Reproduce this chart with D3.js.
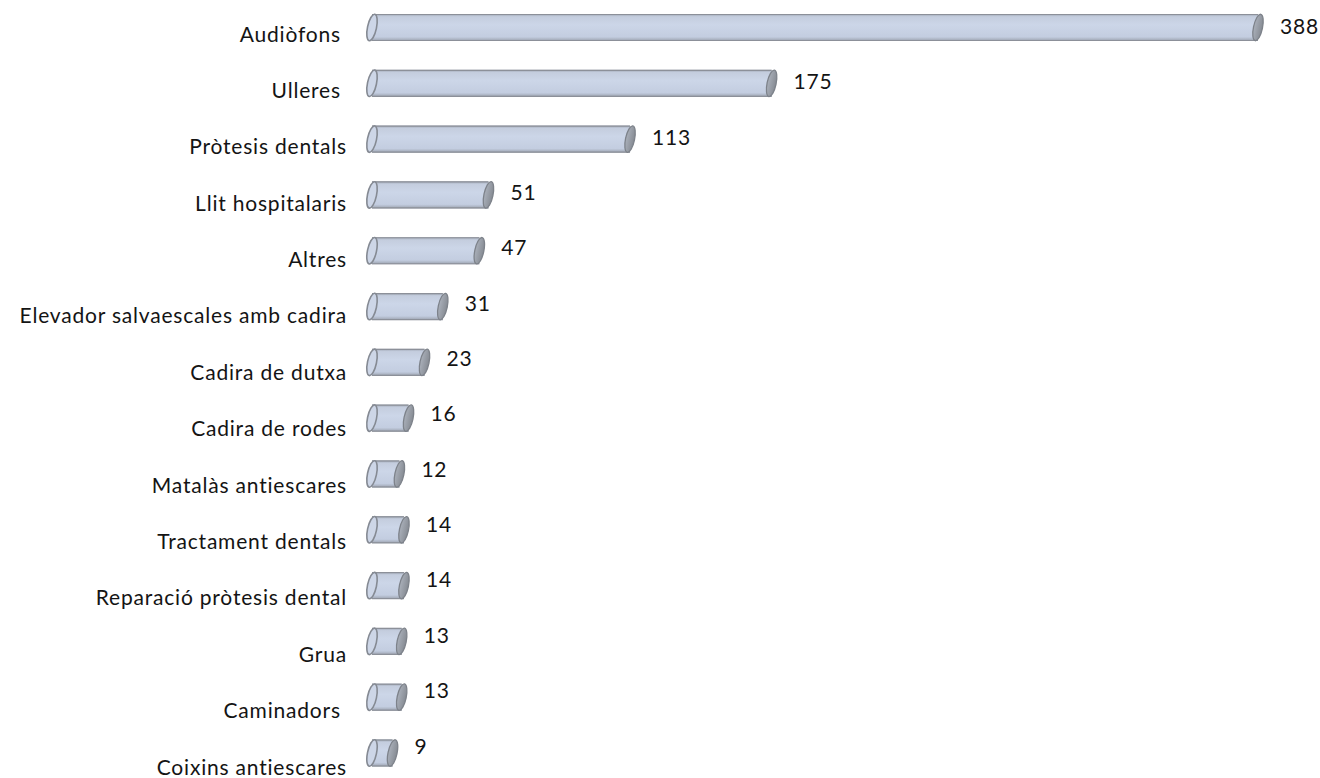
<!DOCTYPE html>
<html>
<head>
<meta charset="utf-8">
<script src="https://cdn.jsdelivr.net/npm/d3@7"></script>
<style>
  html, body { margin: 0; padding: 0; background: #fff; }
  svg { display: block; }
  text { font-family: Lato, "Open Sans", sans-serif; fill: #141414; }
</style>
</head>
<body>
<svg id="chart" width="1320" height="778"></svg>
<script>
const categories = [
  "Audiòfons ", "Ulleres ", "Pròtesis dentals", "Llit hospitalaris", "Altres",
  "Elevador salvaescales amb cadira", "Cadira de dutxa", "Cadira de rodes",
  "Matalàs antiescares", "Tractament dentals", "Reparació pròtesis dental",
  "Grua", "Caminadors ", "Coixins antiescares"
];
const values = [388, 175, 113, 51, 47, 31, 23, 16, 12, 14, 14, 13, 13, 9];

const svg = d3.select("#chart");
const defs = svg.append("defs");

const grad = defs.append("linearGradient")
  .attr("id", "body").attr("x1", 0).attr("y1", 0).attr("x2", 0).attr("y2", 1);
grad.append("stop").attr("offset", "0%").attr("stop-color", "#9ea6b3");
grad.append("stop").attr("offset", "10%").attr("stop-color", "#c4cdde");
grad.append("stop").attr("offset", "40%").attr("stop-color", "#ccd6e8");
grad.append("stop").attr("offset", "85%").attr("stop-color", "#c3cde0");
grad.append("stop").attr("offset", "100%").attr("stop-color", "#9aa1ad");

const capGrad = defs.append("linearGradient")
  .attr("id", "cap").attr("x1", 0).attr("y1", 0).attr("x2", 1).attr("y2", 0);
capGrad.append("stop").attr("offset", "0%").attr("stop-color", "#aab0ba");
capGrad.append("stop").attr("offset", "100%").attr("stop-color", "#868b93");

const x = d3.scaleLinear().domain([0, 388]).range([372, 1258]);
const yBar = d3.scalePoint().domain(categories).range([27.5, 753]);
const yLab = d3.scalePoint().domain(categories).range([33, 766]);
const yVal = d3.scalePoint().domain(categories).range([25.5, 745]);

const h = 27, rx = 4.5, tilt = 12;

const g = svg.append("g");
const rows = g.selectAll("g.row").data(categories).join("g").attr("class", "row");

rows.each(function(c, i) {
  const sel = d3.select(this);
  const cy = yBar(c);
  const x0 = x(0), x1 = x(values[i]);
  sel.append("rect")
    .attr("x", x0).attr("y", cy - h / 2)
    .attr("width", x1 - x0).attr("height", h)
    .attr("fill", "url(#body)");
  sel.append("line").attr("x1", x0).attr("x2", x1)
    .attr("y1", cy - h / 2 + 0.5).attr("y2", cy - h / 2 + 0.5)
    .attr("stroke", "#8c9099").attr("stroke-width", 1.2);
  sel.append("line").attr("x1", x0).attr("x2", x1)
    .attr("y1", cy + h / 2 - 0.5).attr("y2", cy + h / 2 - 0.5)
    .attr("stroke", "#8c9099").attr("stroke-width", 1.2);
  sel.append("ellipse")
    .attr("cx", x1).attr("cy", cy).attr("rx", rx).attr("ry", h / 2)
    .attr("transform", `rotate(${tilt},${x1},${cy})`)
    .attr("fill", "url(#cap)").attr("stroke", "#7d828a").attr("stroke-width", 1.3);
  sel.append("ellipse")
    .attr("cx", x0).attr("cy", cy).attr("rx", rx).attr("ry", h / 2)
    .attr("transform", `rotate(${tilt},${x0},${cy})`)
    .attr("fill", "#cdd6e7").attr("stroke", "#858a93").attr("stroke-width", 1.6);
  sel.append("text")
    .attr("x", 347).attr("y", yLab(c))
    .attr("text-anchor", "end").attr("dominant-baseline", "central")
    .attr("font-size", 21).attr("letter-spacing", 0.8)
    .style("white-space", "pre")
    .text(c);
  sel.append("text")
    .attr("x", x1 + 22).attr("y", yVal(c))
    .attr("text-anchor", "start").attr("dominant-baseline", "central")
    .attr("font-size", 21).attr("letter-spacing", 0.8)
    .text(values[i]);
});
</script>
</body>
</html>
